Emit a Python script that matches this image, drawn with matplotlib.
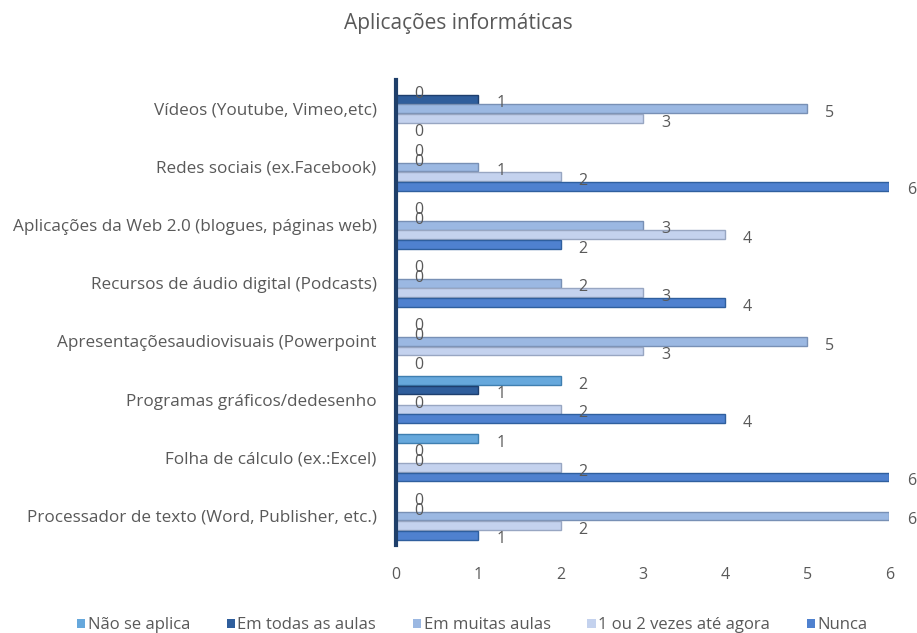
import matplotlib
matplotlib.use("Agg")
import matplotlib.pyplot as plt
import numpy as np

categories = [
    "Processador de texto (Word, Publisher, etc.)",
    "Folha de cálculo (ex.:Excel)",
    "Programas gráficos/dedesenho",
    "Apresentaçõesaudiovisuais (Powerpoint",
    "Recursos de áudio digital (Podcasts)",
    "Aplicações da Web 2.0 (blogues, páginas web)",
    "Redes sociais (ex.Facebook)",
    "Vídeos (Youtube, Vimeo,etc)",
]
series_names = ["Não se aplica", "Em todas as aulas", "Em muitas aulas",
                "1 ou 2 vezes até agora", "Nunca"]
nao_se_aplica = [0, 1, 2, 0, 0, 0, 0, 0]
em_todas = [0, 0, 1, 0, 0, 0, 0, 1]
em_muitas = [6, 0, 0, 5, 2, 3, 1, 5]
uma_ou_duas = [2, 2, 2, 3, 3, 4, 2, 3]
nunca = [1, 6, 4, 0, 4, 2, 6, 0]
xticks = [0, 1, 2, 3, 4, 5, 6]

series = [nao_se_aplica, em_todas, em_muitas, uma_ou_duas, nunca]
colors = ["#66A8DC", "#2F5E9C", "#9BB8E2", "#C4D2EE", "#4F81CF"]
edges = ["#3F7FB0", "#1E3F6E", "#7890B5", "#98A6C2", "#2F5F9E"]

plt.rcParams['font.family'] = ['Open Sans', 'DejaVu Sans']
fig = plt.figure(figsize=(9.17, 6.33), dpi=100)
ax = fig.add_axes([0.432, 0.139, 0.538, 0.735])

y = np.arange(len(categories))
h = 0.165
offsets = [2 * h, h, 0, -h, -2 * h]
gray = "#595959"
for vals, name, c, e, off in zip(series, series_names, colors, edges, offsets):
    ax.barh(y + off, vals, height=h * 0.92, color=c, edgecolor=e,
            linewidth=1.0, label=name)
    for yi, v in zip(y, vals):
        ax.annotate(str(v), (v, yi + off), xytext=(13, -3),
                    textcoords="offset points", ha="left", va="center",
                    fontsize=11.5, color=gray)

ax.set_xlim(0, 6)
ax.set_ylim(-0.5, len(categories) - 0.5)
ax.set_xticks(xticks)
ax.set_xticklabels([str(t) for t in xticks], fontsize=11.5, color=gray)
ax.set_yticks(y)
ax.set_yticklabels(categories, fontsize=12.3, color=gray)
ax.tick_params(axis="both", length=0)
ax.tick_params(axis="x", pad=16)
ax.tick_params(axis="y", pad=14)
for s in ["top", "right", "bottom"]:
    ax.spines[s].set_visible(False)
ax.spines["left"].set_color("#1F3F6A")
ax.spines["left"].set_linewidth(3)

fig.suptitle("Aplicações informáticas", y=0.98, fontsize=15, color=gray)

leg = fig.legend(loc="lower center", bbox_to_anchor=(0.515, -0.024), ncol=5,
                 frameon=False, fontsize=12, handlelength=0.5, handleheight=0.5,
                 handletextpad=0.15, columnspacing=2.2, labelcolor=gray)
for p in leg.get_patches():
    p.set_edgecolor("none")

fig.savefig("out.png", dpi=100)
